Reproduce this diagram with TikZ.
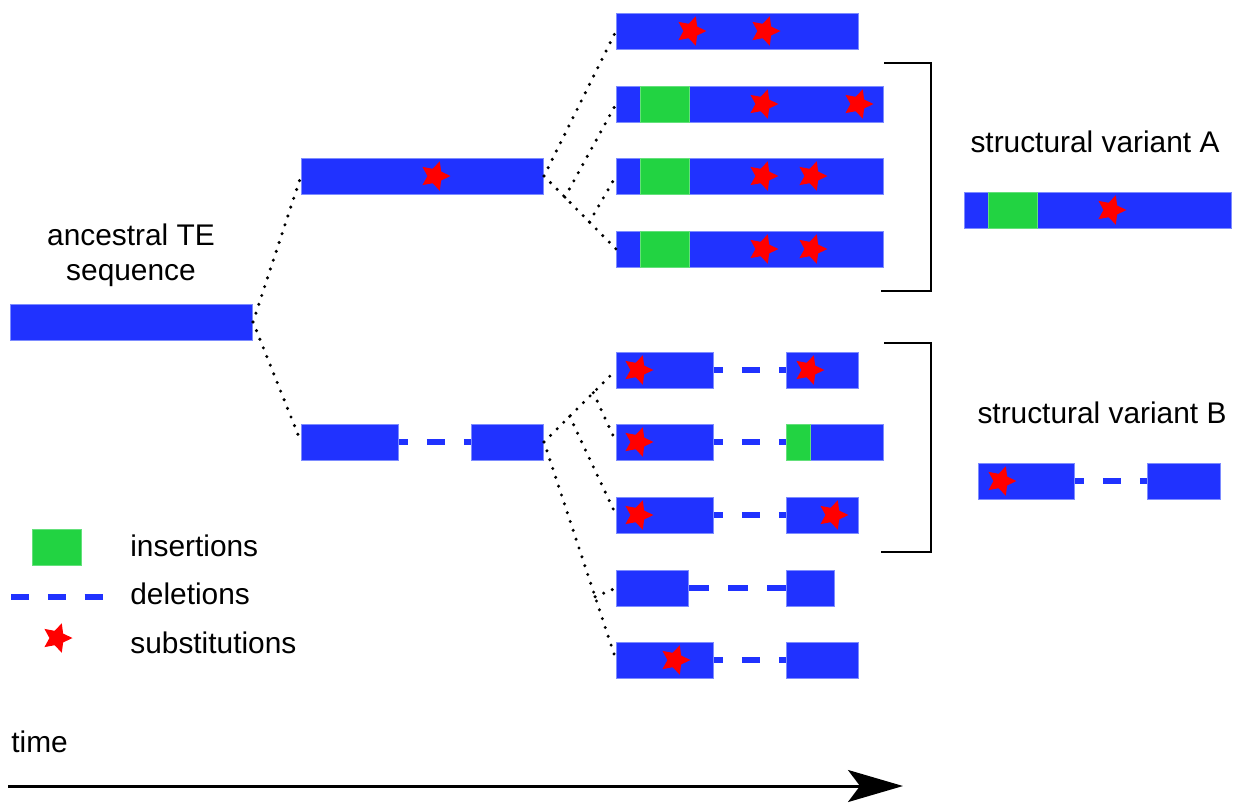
\documentclass[tikz,border=0pt]{standalone}
\usepackage{fontspec}
\setmainfont{Liberation Sans}
\usetikzlibrary{shapes.geometric,calc,arrows.meta}

\newlength\pxu
\setlength\pxu{0.02cm}

\definecolor{teblue}{RGB}{32,50,255}
\definecolor{teedge}{RGB}{125,140,255}
\definecolor{insgreen}{RGB}{34,211,66}
\definecolor{subred}{RGB}{255,0,0}

\tikzset{
  seqbar/.style={rectangle, fill=teblue, draw=teedge, line width=1\pxu,
    minimum height=36\pxu, inner sep=0, anchor=west},
  insbox/.style={rectangle, fill=insgreen, draw=insgreen!70!white, line width=1\pxu,
    minimum height=36\pxu, inner sep=0, anchor=west},
  subst/.style={star, star points=5, star point ratio=2.05, fill=subred,
    minimum size=31\pxu, inner sep=0, rotate=-18},
  delline/.style={teblue, line width=6\pxu, dash pattern=on 18.5\pxu off 18.5\pxu,
    dash phase=9.25\pxu},
  lineage/.style={line width=3.4\pxu, dash pattern=on 0pt off 9.3\pxu, line cap=round},
  lbl/.style={inner sep=0, font=\fontsize{17}{20}\selectfont},
  bracket/.style={line width=2\pxu}
}

\begin{document}
\begin{tikzpicture}[x=1\pxu, y=-1\pxu]
\useasboundingbox (0,0) rectangle (1239,802);

% Secuencia ancestral
\node [seqbar, minimum width=242\pxu] (anc) at (10,322) {};
\node [lbl, anchor=base] (anct1) at (131,245) {ancestral TE};
\node [lbl, anchor=base] (anct2) at (131,280) {sequence};

% Primera generacion
\node [seqbar, minimum width=242\pxu] (g1t) at (301,176) {};
\node [seqbar, minimum width=97\pxu] (g1bl) at (301,442) {};
\node [seqbar, minimum width=72\pxu] (g1br) at (471,442) {};

% Segunda generacion, rama superior
\node [seqbar, minimum width=242\pxu] (ra) at (616,31) {};
\node [seqbar, minimum width=267\pxu] (rb) at (616,104) {};
\node [seqbar, minimum width=267\pxu] (rc) at (616,176) {};
\node [seqbar, minimum width=267\pxu] (rd) at (616,249) {};

% Segunda generacion, rama inferior
\node [seqbar, minimum width=97\pxu] (r1l) at (616,370) {};
\node [seqbar, minimum width=72\pxu] (r1r) at (786,370) {};
\node [seqbar, minimum width=97\pxu] (r2l) at (616,442) {};
\node [seqbar, minimum width=97\pxu] (r2r) at (786,442) {};
\node [seqbar, minimum width=97\pxu] (r3l) at (616,515) {};
\node [seqbar, minimum width=72\pxu] (r3r) at (786,515) {};
\node [seqbar, minimum width=72\pxu] (r4l) at (616,588) {};
\node [seqbar, minimum width=48\pxu] (r4r) at (786,588) {};
\node [seqbar, minimum width=97\pxu] (r5l) at (616,660) {};
\node [seqbar, minimum width=72\pxu] (r5r) at (786,660) {};

% Variantes estructurales
\node [lbl, anchor=base] (svat) at (1095,152) {structural variant A};
\node [seqbar, minimum width=267\pxu] (sva) at (964,210) {};
\node [lbl, anchor=base] (svbt) at (1102,423) {structural variant B};
\node [seqbar, minimum width=96\pxu] (svbl) at (978,481) {};
\node [seqbar, minimum width=73\pxu] (svbr) at (1147,481) {};

% Inserciones
\foreach \x/\y [count=\i] in {640/104, 640/176, 640/249, 988/210}
  \node [insbox, minimum width=49\pxu] (ins\i) at (\x,\y) {};
\node [insbox, minimum width=24\pxu] (ins5) at (786,442) {};

% Deleciones
\foreach \a/\b in {g1bl/g1br, r1l/r1r, r2l/r2r, r3l/r3r, r5l/r5r, svbl/svbr}
  \draw [delline] (\a.east) -- (\b.west);
\draw [delline, dash pattern=on 19.6\pxu off 19.6\pxu, dash phase=0pt] (r4l.east) -- (r4r.west);

% Sustituciones
\foreach \x/\y [count=\i] in {435/176, 691/31, 765/31, 763/104, 858/104, 763/176, 812/176,
    763/249, 812/249, 638/370, 809/370, 638/442, 638/515, 833/515, 675/660,
    1111/210, 1001/481}
  \node [subst] (sub\i) at (\x,\y) {};

% Linajes
\draw [lineage] (anc.east) -- (g1t.west);
\draw [lineage] (anc.east) -- (g1bl.west);
\coordinate (pb) at ($(g1t.east)!0.29!(rd.west)$);
\coordinate (pc) at ($(g1t.east)!0.63!(rd.west)$);
\draw [lineage] (g1t.east) -- (ra.west);
\draw [lineage] (g1t.east) -- (rd.west);
\draw [lineage] (pb) -- (rb.west);
\draw [lineage] (pc) -- (rc.west);
\coordinate (p3) at ($(g1br.east)!0.356!(r1l.west)$);
\coordinate (p2) at ($(g1br.east)!0.685!(r1l.west)$);
\coordinate (p4) at ($(g1br.east)!0.71!(r5l.west)$);
\draw [lineage] (g1br.east) -- (r1l.west);
\draw [lineage] (g1br.east) -- (r5l.west);
\draw [lineage] (p2) -- (r2l.west);
\draw [lineage] (p3) -- (r3l.west);
\draw [lineage] (p4) -- (r4l.west);

% Corchetes
\draw [bracket] (884,63) -- (931,63) -- (931,291) -- (881,291);
\draw [bracket] (884,343) -- (931,343) -- (931,552) -- (881,552);

% Leyenda
\node [insbox, minimum width=49\pxu] (leg1) at (32,547) {};
\coordinate (leg2a) at (11,597);
\coordinate (leg2b) at (103,597);
\draw [delline, dash pattern=on 18.4\pxu off 18.4\pxu, dash phase=0pt] (leg2a) -- (leg2b);
\node [subst] (leg3) at (57,638) {};
\node [lbl, anchor=base west] (legt1) at (130,556) {insertions};
\node [lbl, anchor=base west] (legt2) at (130,604) {deletions};
\node [lbl, anchor=base west] (legt3) at (130,653) {substitutions};

% Tiempo
\node [lbl, anchor=base west] (timet) at (11,752) {time};
\coordinate (t0) at (8,786);
\coordinate (t1) at (903,786);
\draw [line width=3\pxu, -{Stealth[length=1.1cm, width=0.64cm, inset=0.24cm]}] (t0) -- (t1);
\end{tikzpicture}
\end{document}
